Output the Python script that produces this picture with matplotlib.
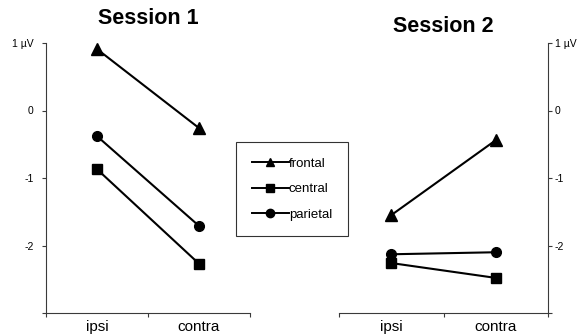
import matplotlib.pyplot as plt
from matplotlib.lines import Line2D

plt.rcParams['font.family'] = ['Liberation Sans', 'DejaVu Sans']

conditions = ['ipsi', 'contra']
regions = ['frontal', 'central', 'parietal']
markers = {'frontal': '^', 'central': 's', 'parietal': 'o'}

# mean amplitudes in microvolts, per session
session1 = {'frontal': [0.91, -0.26], 'central': [-0.87, -2.27], 'parietal': [-0.38, -1.71]}
session2 = {'frontal': [-1.55, -0.44], 'central': [-2.26, -2.48], 'parietal': [-2.13, -2.10]}

yticks = [-3, -2, -1, 0, 1]
ytick_labels = ['', '-2', '-1', '0', '1 \u00b5V']

fig = plt.figure(figsize=(5.82, 3.34), dpi=100)
ax1 = fig.add_axes([46 / 582, 21 / 334, 204 / 582, 270 / 334])
ax2 = fig.add_axes([339 / 582, 21 / 334, 209 / 582, 270 / 334])

axis_col = '#3a3a3a'
xpos = [0.5, 1.5]

for ax, data, title, side, tpad, ypad in [(ax1, session1, 'Session 1', 'left', 14, 6),
                                          (ax2, session2, 'Session 2', 'right', 8, 2)]:
    for reg in regions:
        ms = 8 if markers[reg] == '^' else 7
        ax.plot(xpos, data[reg], color='black', lw=1.5, marker=markers[reg],
                ms=ms, mfc='black', mec='black', clip_on=False)
    ax.set_xlim(0, 2)
    ax.set_ylim(-3, 1)
    ax.set_xticks([0, 1, 2])
    ax.set_xticklabels([])
    ax.set_xticks(xpos, minor=True)
    ax.set_xticklabels(conditions, minor=True, fontsize=11)
    ax.tick_params(axis='x', which='minor', length=0, pad=5)
    ax.tick_params(axis='x', which='major', length=3, color=axis_col, direction='out')
    ax.set_yticks(yticks)
    ax.set_yticklabels(ytick_labels, fontsize=7.5)
    ax.tick_params(axis='y', length=3, color=axis_col, direction='out', pad=ypad)
    for s in ['top', 'left', 'right']:
        ax.spines[s].set_visible(False)
    ax.spines[side].set_visible(True)
    ax.spines[side].set_color(axis_col)
    ax.spines['bottom'].set_color(axis_col)
    if side == 'right':
        ax.yaxis.tick_right()
    ax.set_title(title, fontsize=15.5, fontweight='bold', pad=tpad)

handles = [Line2D([0], [0], color='black', lw=1.4, marker=markers[r],
                  ms=6, mfc='black', mec='black') for r in regions]
leg = fig.legend(handles, regions, loc='center', bbox_to_anchor=(292 / 582, 1 - 189 / 334),
                 fontsize=9.5, frameon=True, fancybox=False, edgecolor='black',
                 handlelength=2.8, handletextpad=0.0, labelspacing=1.0,
                 borderpad=1.2, borderaxespad=0)
leg.get_frame().set_linewidth(0.8)

fig.savefig('out.png', dpi=100)
